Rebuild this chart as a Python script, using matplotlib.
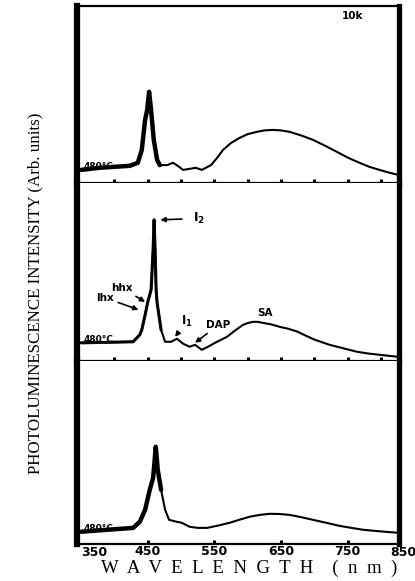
import matplotlib
matplotlib.use("Agg")
import matplotlib.pyplot as plt
import matplotlib.transforms as mtransforms
import numpy as np

# photoluminescence spectra, three samples (10 K), offset baselines per panel
top_wl = [350, 378, 423, 435, 441, 446, 449, 452, 455, 459, 464, 468, 479, 488, 495,
          503, 513, 522, 531, 545, 555, 563, 575, 588, 600, 614, 625, 638, 650, 663,
          680, 698, 716, 734, 750, 768, 783, 798, 812, 826]
top_int = [0.073, 0.085, 0.096, 0.113, 0.186, 0.356, 0.41, 0.514, 0.41, 0.243, 0.13,
           0.10, 0.10, 0.113, 0.096, 0.073, 0.079, 0.085, 0.073, 0.10, 0.145, 0.186,
           0.225, 0.254, 0.275, 0.288, 0.296, 0.299, 0.296, 0.288, 0.268, 0.243, 0.21,
           0.175, 0.143, 0.113, 0.09, 0.073, 0.058, 0.045]

mid_wl = [350, 390, 428, 438, 441, 446, 450, 455, 458, 459.5, 461, 462.5, 464, 470,
          476, 485, 494, 503, 513, 521, 531, 541, 551, 560, 569, 581, 593, 600, 608,
          615, 623, 635, 648, 661, 674, 688, 701, 712, 723, 744, 764, 781, 798, 812, 827]
mid_int = [0.101, 0.104, 0.107, 0.146, 0.174, 0.258, 0.331, 0.399, 0.624, 0.792, 0.624,
           0.399, 0.326, 0.174, 0.107, 0.107, 0.124, 0.096, 0.079, 0.09, 0.062, 0.08,
           0.101, 0.118, 0.135, 0.17, 0.202, 0.212, 0.219, 0.219, 0.213, 0.205, 0.191,
           0.18, 0.165, 0.14, 0.118, 0.104, 0.09, 0.07, 0.051, 0.041, 0.034, 0.028, 0.022]

bot_wl = [350, 390, 428, 438, 446, 453, 458, 462, 465, 470, 476, 482, 494, 501, 513,
          525, 539, 556, 573, 588, 603, 618, 633, 648, 663, 680, 698, 718, 738, 756,
          773, 790, 806, 827]
bot_int = [0.066, 0.077, 0.087, 0.12, 0.186, 0.295, 0.36, 0.53, 0.404, 0.295, 0.186,
           0.131, 0.12, 0.115, 0.093, 0.087, 0.087, 0.10, 0.115, 0.132, 0.148, 0.158,
           0.164, 0.163, 0.158, 0.146, 0.131, 0.115, 0.098, 0.087, 0.077, 0.071, 0.066, 0.06]

tick_pos = [350, 450, 550, 650, 750, 850]
tick_labels = ["350", "450", "550", "650", "750", "850"]
minor_pos = [400, 450, 500, 550, 600, 650, 700, 750, 800]
anneal = "480°C"

fig = plt.figure(figsize=(4.15, 5.81), dpi=100)
gs = fig.add_gridspec(3, 1, height_ratios=[177, 178, 183], hspace=0,
                      left=0.186, right=0.961, top=0.990, bottom=0.064)
axes = [fig.add_subplot(gs[i]) for i in range(3)]

spectra = [(top_wl, top_int), (mid_wl, mid_int), (bot_wl, bot_int)]
for i, (ax, (wl, inten)) in enumerate(zip(axes, spectra)):
    wl = np.array(wl)
    inten = np.array(inten)
    ax.plot(wl, inten, color="black", lw=1.5, solid_joinstyle="round")
    # exciton peak region is drawn heavier
    pk = wl <= 472
    ax.plot(wl[pk], inten[pk], color="black", lw=3.2 if i != 1 else 2.2,
            solid_joinstyle="round", solid_capstyle="round")
    ax.set_xlim(344, 827)
    ax.set_ylim(0, 1)
    ax.set_yticks([])
    ax.spines["left"].set_linewidth(4.5)
    ax.spines["right"].set_linewidth(3.8)
    ax.spines["bottom"].set_linewidth(1.6)
    ax.spines["top"].set_linewidth(1.6)
    if i > 0:
        ax.spines["top"].set_visible(False)
    ax.tick_params(axis="x", direction="in", length=3, width=2.2, pad=0.5)
    ax.text(353, inten[0] + 0.02, anneal, fontsize=6.5, fontweight="bold",
            ha="left", va="center", color="black")

for ax in axes[:2]:
    ax.set_xticks(minor_pos)
    ax.set_xticklabels([])

ax = axes[2]
tfont = dict(fontsize=9, fontweight="heavy")
ax.set_xticks(tick_pos[1:-1])
ax.set_xticklabels(tick_labels[1:-1], **tfont)
tr = mtransforms.blended_transform_factory(ax.transData, ax.transAxes)
ax.text(tick_pos[0], -0.012, tick_labels[0], transform=tr, ha="left", va="top",
        clip_on=False, **tfont)
ax.text(tick_pos[-1] + 3, -0.012, tick_labels[-1], transform=tr, ha="right", va="top",
        clip_on=False, **tfont)

fig.text(249 / 415, 1 - 573 / 581, "W  A  V  E  L  E  N  G  T  H    (  n  m  )",
         family="Liberation Serif", fontsize=13.5, ha="center", va="baseline")

fig.text(35 / 415, 1 - 293 / 581, "PHOTOLUMINESCENCE INTENSITY (Arb. units)",
         family="Liberation Serif", fontsize=12.2, rotation=90,
         ha="center", va="center")

axes[0].text(0.857, 0.944, "10k", transform=axes[0].transAxes, fontsize=7.5,
             fontweight="heavy", ha="center", va="center")

# peak assignments on the middle spectrum
m = axes[1]
lab = dict(fontsize=7.5, fontweight="heavy")
arr = dict(arrowstyle="-|>", lw=1.2, color="black", mutation_scale=7,
           shrinkA=1, shrinkB=0)
m.annotate(r"$\mathbf{I_2}$", xy=(469, 0.792), xytext=(518, 0.80), ha="left",
           va="center", arrowprops=dict(arr, shrinkA=6), fontsize=9)
m.annotate("hhx", xy=(446, 0.331), xytext=(411, 0.41), ha="center", va="center",
           arrowprops=arr, **lab)
m.annotate("lhx", xy=(436, 0.287), xytext=(386, 0.354), ha="center", va="center",
           arrowprops=arr, **lab)
m.annotate(r"$\mathbf{I_1}$", xy=(491, 0.135), xytext=(509, 0.222), ha="center",
           va="center", arrowprops=arr, fontsize=8.5)
m.annotate("DAP", xy=(521, 0.101), xytext=(556, 0.202), ha="center", va="center",
           arrowprops=arr, **lab)
m.text(626, 0.27, "SA", ha="center", va="center", **lab)

fig.savefig("out.png", dpi=100)
